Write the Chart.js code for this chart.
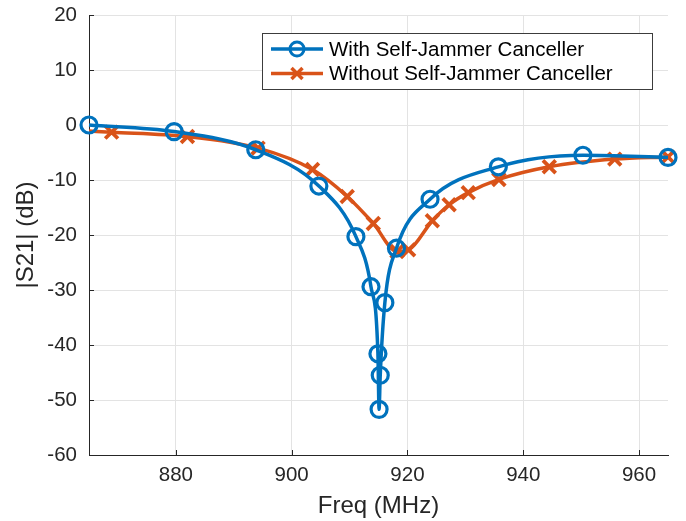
<!DOCTYPE html>
<html>
<head>
<meta charset="utf-8">
<script src="https://cdn.jsdelivr.net/npm/chart.js@4/dist/chart.umd.min.js"></script>
<style>
  html, body { margin: 0; padding: 0; background: #ffffff; }
  #wrap { width: 686px; height: 521px; }
</style>
</head>
<body>
<div id="wrap"><canvas id="c" width="686" height="521"></canvas></div>
<script>
// ---- Data ----
const seriesNames = ['With Self-Jammer Canceller', 'Without Self-Jammer Canceller'];

const freqWith = [865, 879.7, 893.8, 904.7, 911.1, 913.7, 914.9, 915.1, 915.3, 916.1, 918.1, 923.9, 935.7, 950.3, 965];
const s21With  = [0, -1.2, -4.5, -11.1, -20.3, -29.4, -41.6, -51.7, -45.5, -32.3, -22.4, -13.5, -7.6, -5.5, -5.9];

const freqWithout = [865, 868.9, 882.0, 894.2, 903.6, 909.6, 914.1, 918.2, 920.2, 924.3, 927.2, 930.5, 935.8, 944.5, 955.8, 965];
const s21Without  = [-1.1, -1.3, -2.1, -4.2, -8.1, -13.0, -17.9, -23.0, -22.7, -17.4, -14.5, -12.3, -9.9, -7.6, -6.2, -5.8];

const xTickValues = [880, 900, 920, 940, 960];
const yTickValues = [-60, -50, -40, -30, -20, -10, 0, 10, 20];
const xRange = [865, 965];
const yRange = [-60, 20];
const xTitle = 'Freq (MHz)';
const yTitle = '|S21| (dB)';

// ---- Styling ----
const BLUE = '#0072BD';
const ORANGE = '#D95319';
const AXIS = '#262626';
const GRID = '#e3e3e3';
const FONT = '"Liberation Sans", Arial, Helvetica, sans-serif';

const toXY = (xs, ys) => xs.map((x, i) => ({ x: x, y: ys[i] }));

const inwardTicks = {
  id: 'inwardTicks',
  beforeDatasetsDraw(chart) {
    const { ctx, chartArea: a, scales: { x, y } } = chart;
    ctx.save();
    ctx.strokeStyle = AXIS;
    ctx.lineWidth = 1;
    ctx.beginPath();
    x.ticks.forEach(t => {
      const px = Math.round(x.getPixelForValue(t.value)) + 0.5;
      ctx.moveTo(px, a.bottom);
      ctx.lineTo(px, a.bottom - 5);
    });
    y.ticks.forEach(t => {
      const py = Math.round(y.getPixelForValue(t.value)) + 0.5;
      ctx.moveTo(a.left, py);
      ctx.lineTo(a.left + 5, py);
    });
    ctx.stroke();
    ctx.restore();
  }
};

const boxLegend = {
  id: 'boxLegend',
  afterDraw(chart) {
    const { ctx } = chart;
    const ds = chart.data.datasets;
    const bx = 262, by = 33, bw = 390, bh = 56;
    ctx.save();
    ctx.fillStyle = '#ffffff';
    ctx.fillRect(bx, by, bw, bh);
    ctx.strokeStyle = '#3c3c3c';
    ctx.lineWidth = 1;
    ctx.strokeRect(bx + 0.5, by + 0.5, bw, bh);
    const rows = [49, 73.5];
    ds.forEach((d, i) => {
      const yy = rows[i];
      ctx.strokeStyle = d.borderColor;
      ctx.lineWidth = 3.5;
      ctx.lineCap = 'butt';
      ctx.beginPath();
      ctx.moveTo(271, yy);
      ctx.lineTo(323, yy);
      ctx.stroke();
      const cx = 297;
      ctx.lineWidth = 3;
      if (i === 0) {
        ctx.beginPath();
        ctx.arc(cx, yy, 7, 0, Math.PI * 2);
        ctx.stroke();
      } else {
        const r = 5.5;
        ctx.lineWidth = 3.5;
        ctx.beginPath();
        ctx.moveTo(cx - r, yy - r); ctx.lineTo(cx + r, yy + r);
        ctx.moveTo(cx + r, yy - r); ctx.lineTo(cx - r, yy + r);
        ctx.stroke();
      }
      ctx.fillStyle = '#000000';
      ctx.font = '20.5px ' + FONT;
      ctx.textBaseline = 'middle';
      ctx.textAlign = 'left';
      ctx.fillText(d.label, 329, yy + 1);
    });
    ctx.restore();
  }
};

new Chart(document.getElementById('c'), {
  type: 'line',
  data: {
    datasets: [
      {
        label: seriesNames[0],
        data: toXY(freqWith, s21With),
        borderColor: BLUE,
        backgroundColor: 'rgba(0,0,0,0)',
        borderWidth: 3.5,
        cubicInterpolationMode: 'monotone',
        pointStyle: 'circle',
        pointRadius: 8,
        pointBorderWidth: 3.2,
        pointBorderColor: BLUE,
        pointBackgroundColor: 'rgba(0,0,0,0)',
        clip: false
      },
      {
        label: seriesNames[1],
        data: toXY(freqWithout, s21Without),
        borderColor: ORANGE,
        backgroundColor: 'rgba(0,0,0,0)',
        borderWidth: 3.5,
        cubicInterpolationMode: 'monotone',
        pointStyle: 'crossRot',
        pointRadius: ctx => (ctx.dataIndex === 0 ? 0 : 9),
        pointBorderWidth: 3.8,
        pointBorderColor: ORANGE,
        pointBackgroundColor: ORANGE,
        clip: false
      }
    ]
  },
  options: {
    responsive: false,
    animation: false,
    devicePixelRatio: 1,
    layout: { padding: { top: 15, right: 18, left: 0, bottom: 0 } },
    plugins: { legend: { display: false }, tooltip: { enabled: false } },
    elements: { point: { hoverRadius: 0 } },
    scales: {
      x: {
        type: 'linear',
        min: xRange[0],
        max: xRange[1],
        afterBuildTicks: s => { s.ticks = xTickValues.map(v => ({ value: v })); },
        afterFit: s => { s.height = 66; s.paddingLeft = 0; s.paddingRight = 0; },
        grid: { color: GRID, lineWidth: 1, drawTicks: false },
        border: { display: true, color: AXIS, width: 1 },
        ticks: { color: AXIS, font: { family: FONT, size: 20.5 }, padding: 8, maxRotation: 0 },
        title: { display: true, text: xTitle, color: AXIS, font: { family: FONT, size: 24 }, padding: { top: 1, bottom: 0 } }
      },
      y: {
        type: 'linear',
        min: yRange[0],
        max: yRange[1],
        afterBuildTicks: s => { s.ticks = yTickValues.map(v => ({ value: v })); },
        afterFit: s => { s.width = 89; s.paddingTop = 0; s.paddingBottom = 0; },
        grid: { color: GRID, lineWidth: 1, drawTicks: false },
        border: { display: true, color: AXIS, width: 1 },
        ticks: { color: AXIS, font: { family: FONT, size: 20.5 }, padding: 12 },
        title: { display: true, text: yTitle, color: AXIS, font: { family: FONT, size: 24 }, padding: { top: 12, bottom: 0 } }
      }
    }
  },
  plugins: [inwardTicks, boxLegend]
});
</script>
</body>
</html>
